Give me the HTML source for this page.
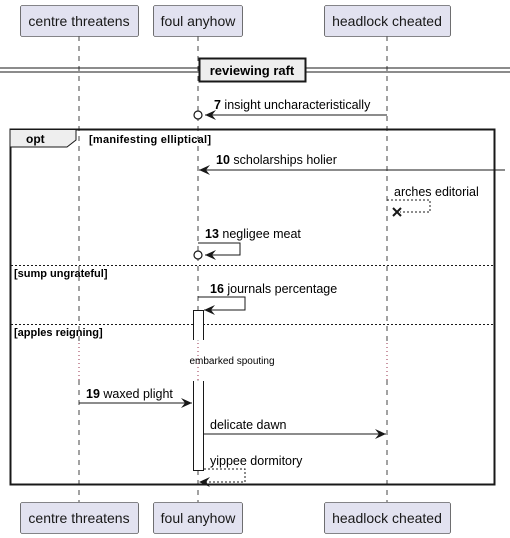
<!DOCTYPE html>
<html><head><style>body{margin:0;background:#fff}svg{display:block}</style></head><body>
<svg width="510" height="538" xmlns="http://www.w3.org/2000/svg" font-family="Liberation Sans, sans-serif">
<defs>
<marker id="a" markerWidth="12" markerHeight="10" refX="11" refY="5" orient="auto" markerUnits="userSpaceOnUse"><path d="M0,0 L11,5 L0,10 L4,5 Z" fill="#181818"/></marker>
</defs>
<g stroke="#181818" stroke-width="0.8" stroke-dasharray="5,5">
<line x1="79" y1="36" x2="79" y2="343"/><line x1="79" y1="380" x2="79" y2="502"/>
<line x1="198" y1="36" x2="198" y2="343"/><line x1="198" y1="380" x2="198" y2="502"/>
<line x1="387" y1="36" x2="387" y2="343"/><line x1="387" y1="380" x2="387" y2="502"/>
</g>
<g stroke="#800020" stroke-width="0.8" stroke-dasharray="1,3">
<line x1="79" y1="343" x2="79" y2="380"/><line x1="198" y1="343" x2="198" y2="380"/><line x1="387" y1="343" x2="387" y2="380"/>
</g>
<g fill="#e2e2f0" stroke="#181818" stroke-width="0.6">
<rect x="20.5" y="5.5" width="118" height="31" rx="2"/><rect x="153.5" y="5.5" width="89" height="31" rx="2"/><rect x="324.5" y="5.5" width="126" height="31" rx="2"/>
<rect x="20.5" y="502.5" width="118" height="31" rx="2"/><rect x="153.5" y="502.5" width="89" height="31" rx="2"/><rect x="324.5" y="502.5" width="126" height="31" rx="2"/>
</g>
<g font-size="14" fill="#181818" text-anchor="middle">
<text x="79" y="26">centre threatens</text><text x="198" y="26">foul anyhow</text><text x="387" y="26">headlock cheated</text>
<text x="79" y="523">centre threatens</text><text x="198" y="523">foul anyhow</text><text x="387" y="523">headlock cheated</text>
</g>
<g stroke="#181818" stroke-width="1"><line x1="0" y1="68" x2="510" y2="68"/><line x1="0" y1="72" x2="510" y2="72"/></g>
<rect x="199.5" y="58.5" width="106" height="23" fill="#eee" stroke="#181818" stroke-width="2"/>
<text x="252" y="75" font-size="13" font-weight="bold" text-anchor="middle">reviewing raft</text>
<line x1="387" y1="115" x2="205" y2="115" stroke="#181818" marker-end="url(#a)"/>
<circle cx="198" cy="115" r="4" fill="#fff" stroke="#181818" stroke-width="1.2"/>
<text x="214" y="109" font-size="12.5"><tspan font-weight="bold">7</tspan> insight uncharacteristically</text>
<rect x="10.5" y="129.5" width="484" height="355" fill="none" stroke="#181818" stroke-width="2"/>
<path d="M10.5,129.5 H76 V140 L67,147 H10.5" fill="#eee" stroke="#181818" stroke-width="1"/>
<text x="26" y="143" font-size="12" font-weight="bold">opt</text>
<text x="89" y="143" font-size="11" font-weight="bold" textLength="122">[manifesting elliptical]</text>
<line x1="505" y1="170" x2="199" y2="170" stroke="#181818" marker-end="url(#a)"/>
<text x="216" y="164" font-size="12.5"><tspan font-weight="bold">10</tspan> scholarships holier</text>
<text x="394" y="196" font-size="12.5">arches editorial</text>
<path d="M387,200 H430 V212 H400" fill="none" stroke="#181818" stroke-dasharray="2,2"/>
<path d="M393,208 L401,216 M401,208 L393,216" stroke="#181818" stroke-width="2"/>
<path d="M198,243 H240 V255 H205" fill="none" stroke="#181818" marker-end="url(#a)"/>
<circle cx="198" cy="255" r="4" fill="#fff" stroke="#181818" stroke-width="1.2"/>
<text x="205" y="238" font-size="12.5"><tspan font-weight="bold">13</tspan> negligee meat</text>
<line x1="11" y1="265.5" x2="494" y2="265.5" stroke="#181818" stroke-dasharray="2,2"/>
<text x="14" y="277" font-size="11" font-weight="bold">[sump ungrateful]</text>
<text x="210" y="293" font-size="12.5"><tspan font-weight="bold">16</tspan> journals percentage</text>
<line x1="11" y1="324.5" x2="494" y2="324.5" stroke="#181818" stroke-dasharray="2,2"/>
<text x="14" y="336" font-size="11" font-weight="bold">[apples reigning]</text>
<rect x="193.5" y="310.5" width="10" height="30" fill="#fff"/>
<rect x="193.5" y="380.5" width="10" height="90" fill="#fff"/>
<path d="M193.5,340 V310.5 H203.5 V340 M193.5,381 V470.5 H203.5 V381" fill="none" stroke="#181818"/>
<path d="M198,297 H245 V310 H204" fill="none" stroke="#181818" marker-end="url(#a)"/>
<text x="232" y="364" font-size="10" text-anchor="middle">embarked spouting</text>
<line x1="79" y1="403" x2="192" y2="403" stroke="#181818" marker-end="url(#a)"/>
<text x="86" y="398" font-size="12.5"><tspan font-weight="bold">19</tspan> waxed plight</text>
<line x1="204" y1="434" x2="386" y2="434" stroke="#181818" marker-end="url(#a)"/>
<text x="210" y="429" font-size="12.5">delicate dawn</text>
<path d="M204,469 H245 V482 H199" fill="none" stroke="#181818" stroke-dasharray="2,2" marker-end="url(#a)"/>
<text x="210" y="465" font-size="12.5">yippee dormitory</text>
</svg>
</body></html>
